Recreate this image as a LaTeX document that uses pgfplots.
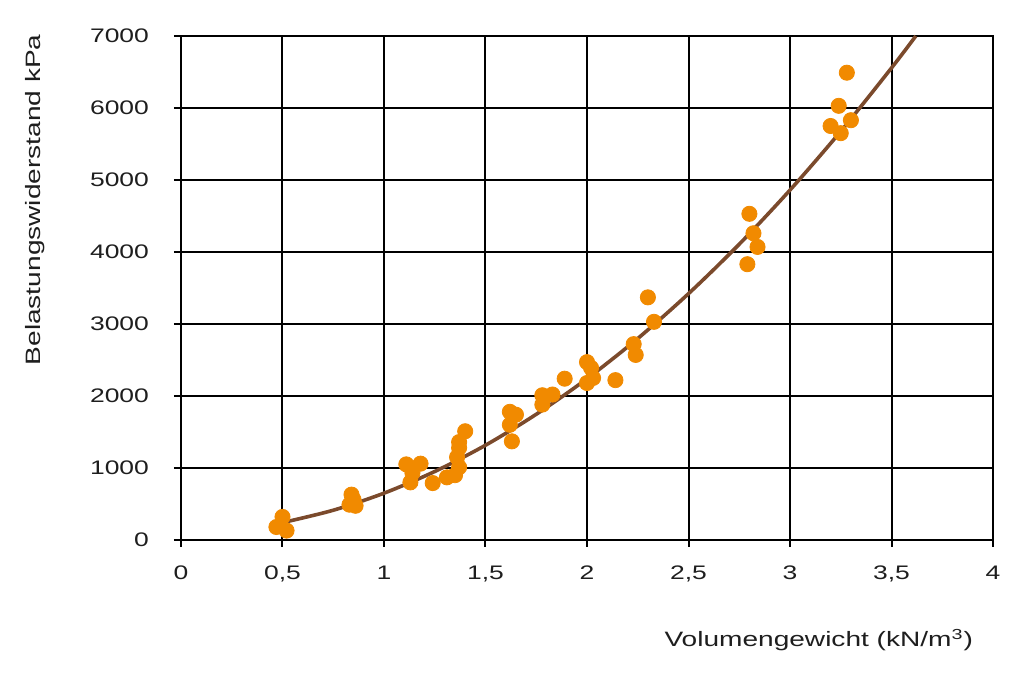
\documentclass[border=0pt]{standalone}
\usepackage{fontspec}
\setmainfont[FakeStretch=1.35]{Liberation Sans}
\usepackage{pgfplots}
\pgfplotsset{compat=1.18}
\definecolor{dotor}{HTML}{F18A00}
\definecolor{trend}{HTML}{7B4A2C}
\definecolor{txt}{HTML}{1E1E1E}
\begin{document}
\begin{tikzpicture}
\begin{axis}[
  name=ax,
  scale only axis,
  width=406pt, height=252pt,
  xmin=0, xmax=4, ymin=0, ymax=7000,
  xtick={0,0.5,...,4}, ytick={0,1000,...,7000},
  grid=major,
  major grid style={black, line width=1.0pt},
  axis line style={black, line width=1.0pt},
  tick style={black, line width=1.0pt},
  major tick length=3.5pt,
  tick align=outside,
  xtick pos=bottom, ytick pos=left,
  /pgf/number format/assume math mode=true,
  /pgf/number format/use comma,
  /pgf/number format/1000 sep={},
  ticklabel style={font=\fontsize{9.8pt}{11pt}\selectfont, text=txt},
  yticklabel style={xshift=-9pt},
  xticklabel style={yshift=-6pt},
  xlabel={Volumengewicht (kN/m\textsuperscript{3})},
  ylabel={Belastungswiderstand kPa},
  label style={font=\fontsize{10.4pt}{12pt}\selectfont, text=txt},
  xlabel style={at={(rel axis cs:0.984,-0.198)}, anchor=east},
  ylabel style={at={(rel axis cs:-0.18,0.675)}, anchor=center},
  clip=false,
]
\addplot[only marks, mark=*, mark size=3.8pt, color=dotor, mark options={draw=dotor, fill=dotor}] coordinates {
(0.47,180) (0.50,320) (0.52,130)
(0.84,630) (0.85,560) (0.83,490) (0.86,475)
(1.11,1050) (1.18,1060) (1.14,930) (1.13,800) (1.24,790) (1.31,870) (1.35,900)
(1.37,1010) (1.36,1150) (1.37,1280) (1.37,1360) (1.40,1510)
(1.62,1780) (1.65,1740) (1.62,1600) (1.63,1370)
(1.78,2010) (1.83,2020) (1.78,1880) (1.89,2240)
(2.00,2470) (2.02,2390) (2.03,2250) (2.00,2180) (2.14,2220)
(2.23,2720) (2.24,2570) (2.30,3370) (2.33,3030)
(2.80,4530) (2.82,4260) (2.84,4070) (2.79,3830)
(3.28,6490) (3.24,6030) (3.20,5750) (3.25,5650) (3.30,5830)
};
\addplot[trend, line width=1.8pt, smooth, no marks] coordinates {
(0.5,241) (0.75,413) (1,650) (1.25,951) (1.5,1316) (1.75,1746) (2,2240)
(2.25,2798) (2.5,3421) (2.75,4108) (3,4860) (3.25,5676) (3.5,6556) (3.62,7000)
};
\end{axis}
\pgfresetboundingbox
\path ([shift={(-90.5pt,-71.5pt)}]ax.south west) rectangle ([shift={(15.5pt,18pt)}]ax.north east);
\end{tikzpicture}
\end{document}
